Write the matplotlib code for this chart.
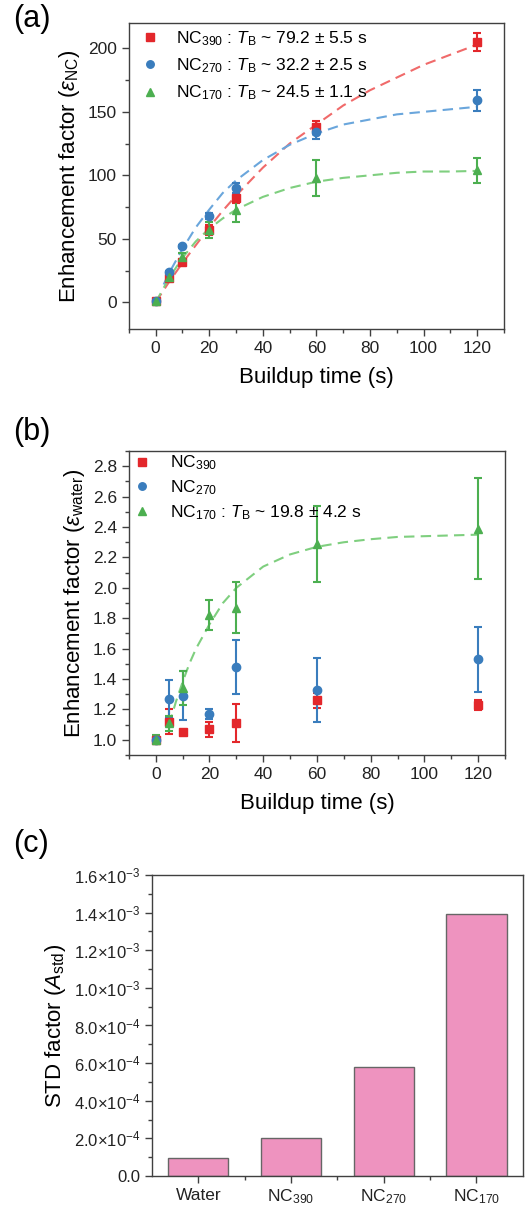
import numpy as np
import matplotlib
matplotlib.use('Agg')
import matplotlib.pyplot as plt
from matplotlib.ticker import MultipleLocator, FuncFormatter

plt.rcParams['font.family'] = ['Liberation Sans', 'DejaVu Sans']
plt.rcParams['mathtext.fontset'] = 'custom'
plt.rcParams['mathtext.rm'] = 'Liberation Sans'
plt.rcParams['mathtext.it'] = 'Liberation Sans:italic'
plt.rcParams['mathtext.bf'] = 'Liberation Sans:bold'

# ---- dados (a) ----
t = [0, 5, 10, 20, 30, 60, 120]
nc390_a = [1, 19, 32, 57, 82, 138, 205]
nc390_a_err = [1, 2, 2, 4, 4, 5, 7]
nc270_a = [1, 24, 44, 68, 90, 134, 159]
nc270_a_err = [1, 1, 1, 2, 4, 5, 8]
nc170_a = [1, 20, 36, 57, 73, 98, 104]
nc170_a_err = [1, 2, 3, 6, 10, 14, 10]

# curvas de ajuste
tfit = [0, 5, 10, 15, 20, 25, 30, 40, 50, 60, 70, 80, 90, 100, 110, 120]
fit390_a = [0, 16, 31, 45, 59, 72, 84, 106, 125, 140, 155, 167, 177, 187, 195, 203]
tfit270 = [3, 5, 10, 15, 20, 25, 30, 40, 50, 60, 70, 80, 90, 100, 110, 120]
fit270_a = [14, 23, 42, 59, 73, 86, 96, 112, 124, 133, 140, 144, 148, 150, 152, 154]
fit170_a = [0, 19, 35, 48, 58, 66, 73, 83, 90, 95, 98, 100, 102, 103, 103, 103.5]

# ---- dados (b) ----
nc390_b = [1.0, 1.12, 1.05, 1.07, 1.11, 1.26, 1.23]
nc390_b_err = [0.01, 0.08, 0.015, 0.05, 0.125, 0.05, 0.035]
nc270_b = [1.0, 1.27, 1.29, 1.17, 1.48, 1.33, 1.53]
nc270_b_err = [0.02, 0.125, 0.16, 0.03, 0.177, 0.21, 0.215]
nc170_b = [1.0, 1.11, 1.34, 1.82, 1.87, 2.29, 2.39]
nc170_b_err = [0.03, 0.05, 0.11, 0.1, 0.17, 0.25, 0.33]
tfit_b = [5, 7.5, 10, 12.5, 15, 20, 25, 30, 40, 50, 60, 70, 80, 90, 100, 110, 120]
fit170_b = [1.10, 1.25, 1.38, 1.50, 1.60, 1.76, 1.90, 2.00, 2.14, 2.22, 2.27,
            2.30, 2.32, 2.335, 2.34, 2.345, 2.35]

# ---- dados (c) ----
amostras = ['Water', r'NC$_{390}$', r'NC$_{270}$', r'NC$_{170}$']
std_fator = [9.4e-5, 2.0e-4, 5.81e-4, 1.391e-3]

vermelho = '#e3272b'
azul = '#3a7dbd'
verde = '#4caf50'
verm_fit = '#f06a6a'
azul_fit = '#6aa6dc'
verde_fit = '#7fcf7f'
cor_eixo = '#404040'

fig = plt.figure(figsize=(5.26, 12.09), dpi=100)
ax1 = fig.add_axes([0.245, 0.7279, 0.713, 0.2531])
ax2 = fig.add_axes([0.245, 0.3755, 0.715, 0.2514])
ax3 = fig.add_axes([0.289, 0.0273, 0.705, 0.249])


def estilo(ax):
    for s in ax.spines.values():
        s.set_color(cor_eixo)
        s.set_linewidth(1.0)
    ax.tick_params(which='major', direction='out', length=5, width=1,
                   color=cor_eixo, labelsize=12.5, labelcolor='#222222',
                   top=False, right=False)
    ax.tick_params(which='minor', direction='out', length=3, width=1,
                   color=cor_eixo, top=False, right=False)


dash = (0, (5, 3))
eb = dict(capsize=3, elinewidth=1.5, capthick=1.5, ms=6, ls='none')

# (a)
ax1.plot(tfit, fit390_a, ls=dash, c=verm_fit, lw=1.5)
ax1.plot(tfit270, fit270_a, ls=dash, c=azul_fit, lw=1.5)
ax1.plot(tfit, fit170_a, ls=dash, c=verde_fit, lw=1.5)
h1 = ax1.errorbar(t, nc390_a, yerr=nc390_a_err, marker='s', c=vermelho, **eb)
h2 = ax1.errorbar(t, nc270_a, yerr=nc270_a_err, marker='o', c=azul, **eb)
h3 = ax1.errorbar(t, nc170_a, yerr=nc170_a_err, marker='^', c=verde, **eb)
ax1.set_xlim(-10, 130)
ax1.set_ylim(-21, 220)
ax1.xaxis.set_major_locator(MultipleLocator(20))
ax1.xaxis.set_minor_locator(MultipleLocator(10))
ax1.yaxis.set_major_locator(MultipleLocator(50))
ax1.yaxis.set_minor_locator(MultipleLocator(25))
estilo(ax1)
ax1.set_xlabel('Buildup time (s)', fontsize=16, labelpad=8)
ax1.set_ylabel(r'Enhancement factor ($\varepsilon_{\mathrm{NC}}$)', fontsize=16)
ax1.legend([h1[0], h2[0], h3[0]],
           [r'NC$_{390}$ : $T_{\mathrm{B}}$ ~ 79.2 ± 5.5 s',
            r'NC$_{270}$ : $T_{\mathrm{B}}$ ~ 32.2 ± 2.5 s',
            r'NC$_{170}$ : $T_{\mathrm{B}}$ ~ 24.5 ± 1.1 s'],
           loc='upper left', bbox_to_anchor=(0.0, 1.02), frameon=False,
           fontsize=12.5, handlelength=1, handletextpad=1.0,
           labelspacing=0.5, borderaxespad=0.3, markerscale=0.9)

# (b)
ax2.plot(tfit_b, fit170_b, ls=dash, c=verde_fit, lw=1.5)
g1 = ax2.errorbar(t, nc390_b, yerr=nc390_b_err, marker='s', c=vermelho, **eb)
g2 = ax2.errorbar(t, nc270_b, yerr=nc270_b_err, marker='o', c=azul, **eb)
g3 = ax2.errorbar(t, nc170_b, yerr=nc170_b_err, marker='^', c=verde, **eb)
ax2.set_xlim(-10, 130)
ax2.set_ylim(0.9, 2.9)
ax2.xaxis.set_major_locator(MultipleLocator(20))
ax2.xaxis.set_minor_locator(MultipleLocator(10))
ax2.yaxis.set_major_locator(MultipleLocator(0.2))
ax2.yaxis.set_minor_locator(MultipleLocator(0.1))
ax2.yaxis.set_major_formatter(FuncFormatter(lambda v, p: f'{v:.1f}'))
estilo(ax2)
ax2.set_xlabel('Buildup time (s)', fontsize=16, labelpad=8)
ax2.set_ylabel(r'Enhancement factor ($\varepsilon_{\mathrm{water}}$)', fontsize=16)
ax2.legend([g1[0], g2[0], g3[0]],
           [r'NC$_{390}$', r'NC$_{270}$',
            r'NC$_{170}$ : $T_{\mathrm{B}}$ ~ 19.8 ± 4.2 s'],
           loc='upper left', bbox_to_anchor=(-0.01, 1.02), frameon=False,
           fontsize=12.5, handlelength=1, handletextpad=1.1,
           labelspacing=0.35, borderaxespad=0.1, markerscale=0.9)

# (c)
pos = np.arange(1, len(amostras) + 1)
ax3.bar(pos, std_fator, width=0.65, color='#ee93bf', edgecolor='#666666', lw=1.0)
ax3.set_xlim(0.5, 4.5)
ax3.set_ylim(0, 1.6e-3)
ax3.set_xticks(pos)
ax3.set_xticklabels(amostras)
ax3.set_xticks(pos[:-1] + 0.5, minor=True)
ax3.yaxis.set_major_locator(MultipleLocator(2e-4))
ax3.yaxis.set_minor_locator(MultipleLocator(1e-4))


def fmt_sci(v, p):
    if abs(v) < 1e-12:
        return '0.0'
    e = int(np.floor(np.log10(abs(v)) + 1e-9))
    m = v / 10 ** e
    return '%.1f×10$^{%d}$' % (m, e)


ax3.yaxis.set_major_formatter(FuncFormatter(fmt_sci))
estilo(ax3)
ax3.tick_params(axis='y', labelsize=12)
ax3.tick_params(axis='x', labelsize=12.5)
ax3.set_ylabel(r'STD factor ($A_{\mathrm{std}}$)', fontsize=16)

fig.text(0.025, 0.997, '(a)', fontsize=22, va='top', ha='left')
fig.text(0.025, 0.655, '(b)', fontsize=22, va='top', ha='left')
fig.text(0.025, 0.314, '(c)', fontsize=22, va='top', ha='left')

fig.savefig('out.png', dpi=100)
